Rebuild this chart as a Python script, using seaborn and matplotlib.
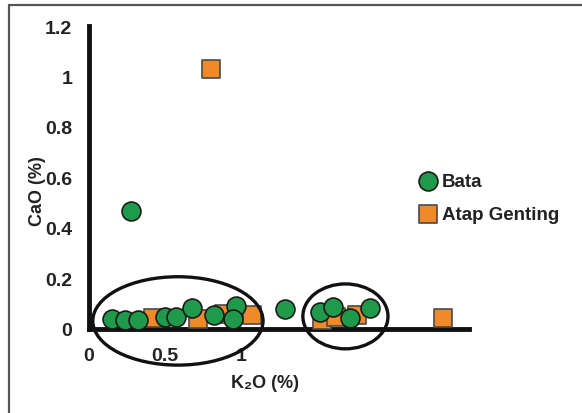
import seaborn as sns
import matplotlib.pyplot as plt
from matplotlib.patches import Ellipse
from matplotlib.lines import Line2D

# K2O vs CaO (%)
bata_k2o = [0.15, 0.24, 0.32, 0.50, 0.57, 0.68, 0.82, 0.97, 0.95, 0.276,
            1.29, 1.52, 1.605, 1.72, 1.85]
bata_cao = [0.040, 0.036, 0.036, 0.047, 0.047, 0.083, 0.055, 0.090, 0.040, 0.467,
            0.079, 0.067, 0.087, 0.044, 0.083]
atap_k2o = [0.42, 0.72, 0.89, 1.07, 0.80, 1.53, 1.625, 1.76, 2.33]
atap_cao = [0.045, 0.040, 0.060, 0.055, 1.03, 0.036, 0.047, 0.055, 0.044]

x_ticks = [0, 0.5, 1]
x_tick_labels = ["0", "0.5", "1"]
y_ticks = [0, 0.2, 0.4, 0.6, 0.8, 1.0, 1.2]
y_tick_labels = ["0", "0.2", "0.4", "0.6", "0.8", "1", "1.2"]

# groups circled on the chart: centre x, centre y, width, height
groups = [(0.585, 0.032, 1.12, 0.35), (1.687, 0.05, 0.56, 0.257)]

green = "#1f9a4b"
orange = "#f08a28"
text_col = "#222222"

sns.set_style("white")
plt.rcParams["font.family"] = ["Liberation Sans", "DejaVu Sans"]
plt.rcParams["font.weight"] = "bold"

fig = plt.figure(figsize=(5.82, 4.14), dpi=100)
ax = fig.add_axes([89 / 582, 84 / 414, 380 / 582, 303 / 414])

sns.scatterplot(x=atap_k2o, y=atap_cao, marker="s", s=160, color=orange,
                edgecolor="#4a4a4a", linewidth=1.2, ax=ax, clip_on=False,
                zorder=3, label="Atap Genting")
sns.scatterplot(x=bata_k2o, y=bata_cao, marker="o", s=185, color=green,
                edgecolor="#1a1a1a", linewidth=1.2, ax=ax, clip_on=False,
                zorder=4, label="Bata")

for cx, cy, w, h in groups:
    ax.add_patch(Ellipse((cx, cy), w, h, fill=False, edgecolor="#111111",
                         linewidth=2.4, clip_on=False, zorder=5))

ax.set_xlim(0, 2.5)
ax.set_ylim(0, 1.2)
ax.set_xticks(x_ticks)
ax.set_xticklabels(x_tick_labels)
ax.set_yticks(y_ticks)
ax.set_yticklabels(y_tick_labels)
ax.tick_params(length=0, labelsize=14, colors=text_col)
ax.tick_params(axis="y", pad=12)
ax.tick_params(axis="x", pad=13)

for side in ["top", "right"]:
    ax.spines[side].set_visible(False)
for side in ["left", "bottom"]:
    ax.spines[side].set_linewidth(3.5)
    ax.spines[side].set_color("#111111")

ax.set_ylabel("CaO (%)", fontsize=13, fontweight="bold", color=text_col)
ax.yaxis.set_label_coords(-0.114, 0.46)
ax.set_xlabel("K₂O (%)", fontsize=13, fontweight="bold", color=text_col)
ax.xaxis.set_label_coords(0.463, -0.15)

handles, labels = ax.get_legend_handles_labels()
ax.legend(handles[::-1], labels[::-1], loc="upper left",
          bbox_to_anchor=(409 / 582, 1 - 166 / 414), bbox_transform=fig.transFigure,
          frameon=False, fontsize=13.5, labelspacing=0.85, handletextpad=0.15,
          borderaxespad=0, handlelength=1.2, labelcolor=text_col)

# frame visible on the left and top of the picture
fig.add_artist(Line2D([9 / 582, 9 / 582], [0, 1 - 6 / 414], transform=fig.transFigure,
                      color="#555555", linewidth=1.6))
fig.add_artist(Line2D([9 / 582, 1], [1 - 6 / 414, 1 - 6 / 414], transform=fig.transFigure,
                      color="#555555", linewidth=1.6))

fig.savefig("out.png", dpi=100)
